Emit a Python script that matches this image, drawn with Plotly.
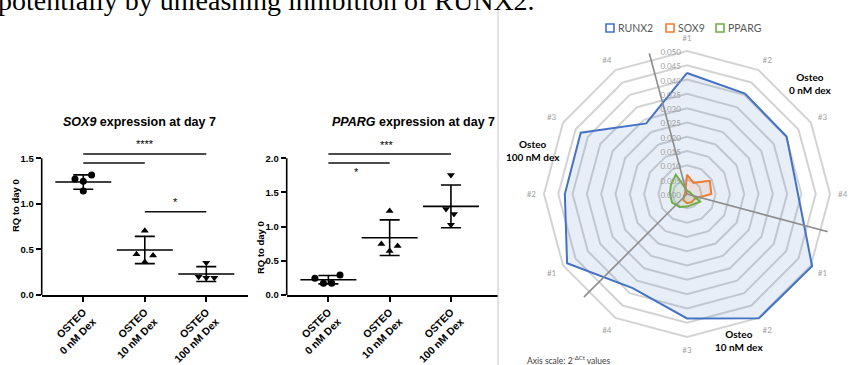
import plotly.graph_objects as go

W, H = 851, 365
def px(x): return x / W
def py(y): return 1 - y / H

# ---------------- data ----------------
group_labels = ["OSTEO<br>0 nM Dex", "OSTEO<br>10 nM Dex", "OSTEO<br>100 nM Dex"]

sox9_g0 = [1.273, 1.317, 1.248, 1.142]
sox9_g1 = [0.706, 0.447, 0.435, 0.362]
sox9_g2 = [0.355, 0.200, 0.190, 0.190]
sox9_mean = [1.240, 0.494, 0.230]
sox9_sd = [0.079, 0.150, 0.082]
sox9_sig_y = [1.548, 1.449, 0.914]
sox9_sig_from = [0, 0, 1]
sox9_sig_to = [2, 1, 2]
sox9_star_text = ["****", "*"]
sox9_star_x = [1.0, 1.5]
sox9_star_y = [1.66, 1.02]

pparg_g0 = [0.244, 0.293, 0.171, 0.171]
pparg_g1 = [1.229, 0.746, 0.717, 0.644]
pparg_g2 = [1.756, 1.258, 1.185, 1.029]
pparg_mean = [0.224, 0.838, 1.297]
pparg_sd = [0.061, 0.261, 0.312]
pparg_sig_y = [2.063, 1.931]
pparg_sig_from = [0, 0]
pparg_sig_to = [2, 1]
pparg_star_text = ["***", "*"]
pparg_star_x = [0.95, 0.46]
pparg_star_y = [2.19, 1.80]

radar_cats = ["0nM #1", "0nM #2", "0nM #3", "0nM #4",
              "10nM #1", "10nM #2", "10nM #3", "10nM #4",
              "100nM #1", "100nM #2", "100nM #3", "100nM #4"]
radar_ticktext = ["#1", "#2", "#3", "#4"] * 3
runx2 = [0.0423, 0.0405, 0.0402, 0.0388, 0.0505, 0.0502, 0.0435, 0.0380,
         0.0484, 0.0427, 0.0429, 0.0285]
sox9_radar = [0.0068, 0.0045, 0.0092, 0.0085, 0.0032, 0.0033, 0.0032, 0.0025,
              0.0012, 0.0008, 0.0008, 0.0012]
pparg_radar = [0.0012, 0.0010, 0.0012, 0.0015, 0.0053, 0.0042, 0.0044, 0.0052,
               0.0060, 0.0060, 0.0065, 0.0078]
divider_angles = [-15, 105, 225]
radar_series = [("RUNX2", runx2, "#4472C4", "rgba(68,114,196,0.12)"),
                ("SOX9", sox9_radar, "#ED7D31", "rgba(237,125,49,0.13)"),
                ("PPARG", pparg_radar, "#70AD47", "rgba(112,173,71,0.13)")]

# ---------------- figure ----------------
fig = go.Figure()
ARIAL = "Liberation Sans"

def add_panel(xa, ya, groups, means, sds, sig_y, sig_from, sig_to,
              star_text, star_x, star_y, jitter):
    symbols = ["circle", "triangle-up", "triangle-down"]
    for i, vals in enumerate(groups):
        fig.add_trace(go.Scatter(
            x=[i + j for j in jitter[i]], y=vals, mode="markers",
            marker=dict(symbol=symbols[i], size=7, color="black"),
            xaxis=xa, yaxis=ya, showlegend=False, cliponaxis=False))
    fig.add_trace(go.Scatter(
        x=list(range(len(means))), y=means, mode="markers",
        marker=dict(symbol="line-ew", size=40, line=dict(width=1.6, color="black")),
        error_y=dict(type="data", array=sds, visible=True, width=10,
                     thickness=1.6, color="black"),
        xaxis=xa, yaxis=ya, showlegend=False, cliponaxis=False))
    for yv, a, b in zip(sig_y, sig_from, sig_to):
        fig.add_trace(go.Scatter(
            x=[a, b], y=[yv, yv], mode="lines",
            line=dict(color="#111111", width=1.6),
            xaxis=xa, yaxis=ya, showlegend=False))
    for t, sx, sy in zip(star_text, star_x, star_y):
        fig.add_annotation(x=sx, y=sy, xref=xa, yref=ya, text=t,
                           xanchor="center", yanchor="middle",
                           showarrow=False, font=dict(family=ARIAL, size=11, color="black"))

add_panel("x", "y", [sox9_g0, sox9_g1, sox9_g2], sox9_mean, sox9_sd,
          sox9_sig_y, sox9_sig_from, sox9_sig_to, sox9_star_text,
          sox9_star_x, sox9_star_y,
          [[-0.135, 0.135, 0, 0], [0, -0.135, 0.135, 0], [0, -0.125, 0, 0.13]])
add_panel("x2", "y2", [pparg_g0, pparg_g1, pparg_g2], pparg_mean, pparg_sd,
          pparg_sig_y, pparg_sig_from, pparg_sig_to, pparg_star_text,
          pparg_star_x, pparg_star_y,
          [[-0.22, 0.19, -0.08, 0.055], [0, -0.135, 0.13, 0], [0, -0.08, 0.05, 0]])

def xaxis_style(domain, rng):
    return dict(domain=domain, range=rng, tickvals=[0, 1, 2], ticktext=group_labels,
                tickangle=-45, ticks="outside", ticklen=5, tickwidth=1.6,
                tickcolor="black", showline=True, linewidth=1.6, linecolor="black",
                showgrid=False, zeroline=False, automargin=False,
                tickfont=dict(family=ARIAL, size=10.5, color="black", weight="bold"))

def yaxis_style(domain, rng, tv, tt):
    return dict(domain=domain, range=rng, tickvals=tv, ticktext=tt,
                ticks="outside", ticklen=5, tickwidth=1.6, tickcolor="black",
                showline=False, showgrid=False, zeroline=False, automargin=False,
                tickfont=dict(family=ARIAL, size=9.5, color="black", weight="bold"))

sox9_y_top = 1.75
pparg_y_top = 2.3
fig.update_layout(
    xaxis=xaxis_style([px(41.7), px(248)], [-0.676, 2.678]),
    yaxis=yaxis_style([py(295), py(295 - 91.1 * sox9_y_top)], [0, sox9_y_top],
                      [0, 0.5, 1.0, 1.5], ["0.0", "0.5", "1.0", "1.5"]),
    xaxis2=dict(xaxis_style([px(286.7), px(498)], [-0.68, 2.768]), anchor="y2"),
    yaxis2=dict(yaxis_style([py(295), py(295 - 68.35 * pparg_y_top)], [0, pparg_y_top],
                            [0, 0.5, 1.0, 1.5, 2.0], ["0.0", "0.5", "1.0", "1.5", "2.0"]),
                anchor="x2"),
)
# y axis lines ending at the last tick (Prism style)
fig.add_shape(type="line", xref="x domain", yref="y", x0=0, x1=0, y0=0, y1=1.5,
              line=dict(color="black", width=1.6))
fig.add_shape(type="line", xref="x2 domain", yref="y2", x0=0, x1=0, y0=0, y1=2.0,
              line=dict(color="black", width=1.6))

def paper_text(x, y, text, font, **kw):
    args = dict(x=px(x), y=py(y), xref="paper", yref="paper", text=text,
                showarrow=False, font=font, xanchor="center", yanchor="middle")
    args.update(kw)
    fig.add_annotation(**args)

# titles
title_font = dict(family=ARIAL, size=12.5, color="black")
paper_text(139, 121.7, "<b><i>SOX9</i> expression at day 7</b>", title_font)
paper_text(413, 121.7, "<b><i>PPARG</i> expression at day 7</b>", title_font)
ytitle_font = dict(family=ARIAL, size=9.5, color="black")
paper_text(15, 206, "<b>RQ to day 0</b>", ytitle_font, textangle=-90)
paper_text(260, 248, "<b>RQ to day 0</b>", ytitle_font, textangle=-90)

# ---------------- radar ----------------
cx, cy, R = 687, 194, 145.9
rmax = 0.051
for name, vals, col, fillcol in radar_series:
    fig.add_trace(go.Scatterpolar(
        r=vals + vals[:1], theta=radar_cats + radar_cats[:1], mode="lines",
        fill="toself", fillcolor=fillcol, line=dict(color=col, width=2),
        name=name, showlegend=False, subplot="polar"))
for ang in divider_angles:
    fig.add_trace(go.Scatterpolar(r=[0, rmax], theta=[ang, ang], mode="lines",
                                  line=dict(color="#8c8c8c", width=1.6),
                                  showlegend=False, subplot="polar2"))

polar_domain = dict(x=[px(cx - R), px(cx + R)], y=[py(cy + R), py(cy - R)])
fig.update_layout(
    polar=dict(
        domain=polar_domain, bgcolor="white", gridshape="linear",
        angularaxis=dict(type="category", rotation=90, direction="clockwise",
                         categoryarray=radar_cats, tickmode="array",
                         tickvals=radar_cats, ticktext=radar_ticktext,
                         showgrid=False, showline=False, ticks="outside", ticklen=3,
                         tickcolor="rgba(0,0,0,0)",
                         tickfont=dict(family="Lato", size=8, color="#a0a0a0")),
        radialaxis=dict(range=[0, rmax], tick0=0, dtick=0.005, tickformat=".3f",
                        angle=90, side="counterclockwise", showline=False,
                        ticks="", gridcolor="#d3d3d3", gridwidth=1.5,
                        tickfont=dict(family="Lato", size=8, color="#a0a0a0")),
    ),
    polar2=dict(
        domain=polar_domain, bgcolor="rgba(0,0,0,0)",
        angularaxis=dict(rotation=90, direction="clockwise", visible=False),
        radialaxis=dict(range=[0, rmax], visible=False),
    ),
)

# radar legend (manual)
leg_x = [610, 670, 720]
for (name, vals, col, fillcol), lx in zip(radar_series, leg_x):
    fig.add_shape(type="rect", xref="paper", yref="paper",
                  x0=px(lx - 4), x1=px(lx + 4), y0=py(32), y1=py(24),
                  line=dict(color=col, width=1.6), fillcolor="white")
    paper_text(lx + 6, 28, name, dict(family="Lato", size=10.5, color="#595959"),
               xanchor="left")

grp_font = dict(family="Lato", size=10, color="black", weight="bold")
for (gx, gy, txt) in [(810, 83, "Osteo<br>0 nM dex"), (533, 150, "Osteo<br>100 nM dex"),
                      (739, 340, "Osteo<br>10 nM dex")]:
    paper_text(gx, gy, txt, grp_font)
paper_text(525, 360, "Axis scale: 2<sup>-ΔCt</sup> values",
           dict(family="Lato", size=8.5, color="#404040"), xanchor="left")

# divider between panels
fig.add_shape(type="line", xref="paper", yref="paper", x0=px(498), x1=px(498),
              y0=py(365), y1=py(10), line=dict(color="#c8c8c8", width=1))

# top body text (cut off)
paper_text(-4, 1, "potentially by unleashing inhibition of RUNX2.",
           dict(family="Liberation Serif", size=28, color="black"), xanchor="left")

fig.update_layout(width=W, height=H, margin=dict(l=0, r=0, t=0, b=0),
                  paper_bgcolor="white", plot_bgcolor="white", showlegend=False)
fig.write_html("out.html", config={"displayModeBar": False},
               post_script="document.body.style.margin='0px';")
